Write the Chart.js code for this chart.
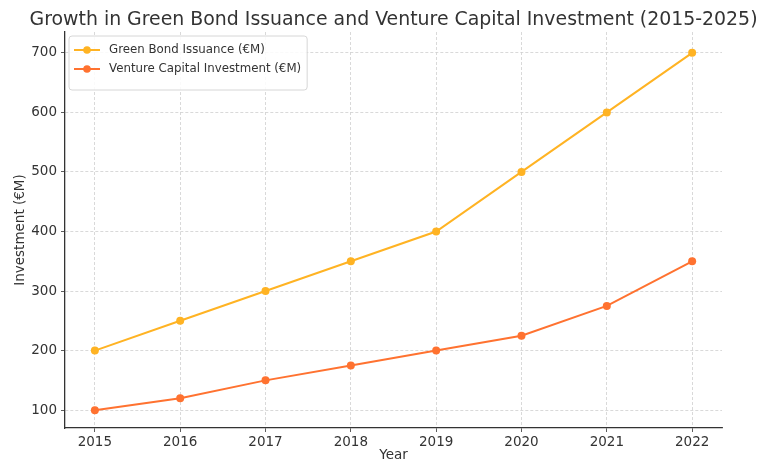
<!DOCTYPE html>
<html>
<head>
<meta charset="utf-8">
<script src="https://cdn.jsdelivr.net/npm/chart.js@4/dist/chart.umd.min.js"></script>
<style>
  html, body { margin: 0; padding: 0; background: #fff; }
  #wrap { width: 764px; height: 464px; }
</style>
</head>
<body>
<div id="wrap"><canvas id="growth_chart" width="764" height="464"></canvas></div>
<script>
// data
var years = [2015, 2016, 2017, 2018, 2019, 2020, 2021, 2022];
var greenBond = [200, 250, 300, 350, 400, 500, 600, 700];
var ventureCapital = [100, 120, 150, 175, 200, 225, 275, 350];
var seriesNames = ['Green Bond Issuance (€M)', 'Venture Capital Investment (€M)'];
var titleText = 'Growth in Green Bond Issuance and Venture Capital Investment (2015-2025)';

var FONT = "'DejaVu Sans', sans-serif";
var INK = '#333333';

function pts(ys) {
  return years.map(function (y, i) { return { x: y, y: ys[i] }; });
}

// title drawn over the plot area centre (matplotlib style)
var titlePlugin = {
  id: 'plotTitle',
  afterDraw: function (chart) {
    var ctx = chart.ctx, a = chart.chartArea;
    ctx.save();
    ctx.font = '18.9px ' + FONT;
    ctx.fillStyle = INK;
    ctx.textAlign = 'center';
    ctx.textBaseline = 'middle';
    ctx.fillText(titleText, (a.left + a.right) / 2, 20);
    ctx.restore();
  }
};

// legend box inside upper-left corner
var legendPlugin = {
  id: 'innerLegend',
  afterDatasetsDraw: function (chart) {
    var ctx = chart.ctx, a = chart.chartArea;
    var sets = chart.data.datasets;
    ctx.save();
    ctx.font = '11.8px ' + FONT;
    var w = 0;
    sets.forEach(function (d) { w = Math.max(w, ctx.measureText(d.label).width); });
    var x = a.left + 4, y = a.top + 4, bw = w + 46, bh = 54;
    ctx.beginPath();
    ctx.roundRect(x, y, bw, bh, 3);
    ctx.fillStyle = 'rgba(255,255,255,0.85)';
    ctx.fill();
    ctx.strokeStyle = '#d6d6d6';
    ctx.lineWidth = 1;
    ctx.stroke();
    sets.forEach(function (d, i) {
      var cy = y + 14 + i * 19;
      ctx.strokeStyle = d.borderColor;
      ctx.lineWidth = 2;
      ctx.beginPath();
      ctx.moveTo(x + 5, cy);
      ctx.lineTo(x + 31, cy);
      ctx.stroke();
      ctx.fillStyle = d.borderColor;
      ctx.beginPath();
      ctx.arc(x + 18, cy, 3.8, 0, Math.PI * 2);
      ctx.fill();
      ctx.fillStyle = INK;
      ctx.textAlign = 'left';
      ctx.textBaseline = 'middle';
      ctx.fillText(d.label, x + 40, cy);
    });
    ctx.restore();
  }
};

var ctx = document.getElementById('growth_chart').getContext('2d');
new Chart(ctx, {
  type: 'line',
  data: {
    datasets: [
      {
        label: seriesNames[0],
        data: pts(greenBond),
        borderColor: '#ffb323',
        backgroundColor: '#ffb323',
        borderWidth: 2,
        pointRadius: 4,
        pointBorderWidth: 0,
        tension: 0
      },
      {
        label: seriesNames[1],
        data: pts(ventureCapital),
        borderColor: '#ff7230',
        backgroundColor: '#ff7230',
        borderWidth: 2,
        pointRadius: 4,
        pointBorderWidth: 0,
        tension: 0
      }
    ]
  },
  options: {
    responsive: false,
    animation: false,
    layout: { padding: { top: 32, right: 42, left: 0, bottom: 0 } },
    plugins: {
      legend: { display: false },
      title: { display: false },
      tooltip: { enabled: false }
    },
    scales: {
      x: {
        type: 'linear',
        min: 2014.65,
        max: 2022.35,
        afterFit: function (s) { s.height = 36; },
        ticks: {
          stepSize: 1,
          includeBounds: false,
          color: INK,
          padding: 2,
          font: { family: FONT, size: 13.5 },
          callback: function (v) { return String(v); }
        },
        grid: { color: '#cfcfcf', tickColor: INK, tickLength: 4, lineWidth: 0.8 },
        border: { color: INK, width: 1.3, dash: [3, 2] },
        title: {
          display: true,
          text: 'Year',
          color: INK,
          padding: { top: 0, bottom: 0 },
          font: { family: FONT, size: 13.5 }
        }
      },
      y: {
        min: 70,
        max: 735,
        afterFit: function (s) { s.width = 65; },
        ticks: {
          stepSize: 100,
          includeBounds: false,
          color: INK,
          padding: 4,
          font: { family: FONT, size: 13.5 }
        },
        grid: { color: '#cfcfcf', tickColor: INK, tickLength: 4, lineWidth: 0.8 },
        border: { color: INK, width: 1.3, dash: [3, 2] },
        title: {
          display: true,
          text: 'Investment (€M)',
          color: INK,
          padding: { top: 12, bottom: 0 },
          font: { family: FONT, size: 13.5 }
        }
      }
    }
  },
  plugins: [titlePlugin, legendPlugin]
});
</script>
</body>
</html>
